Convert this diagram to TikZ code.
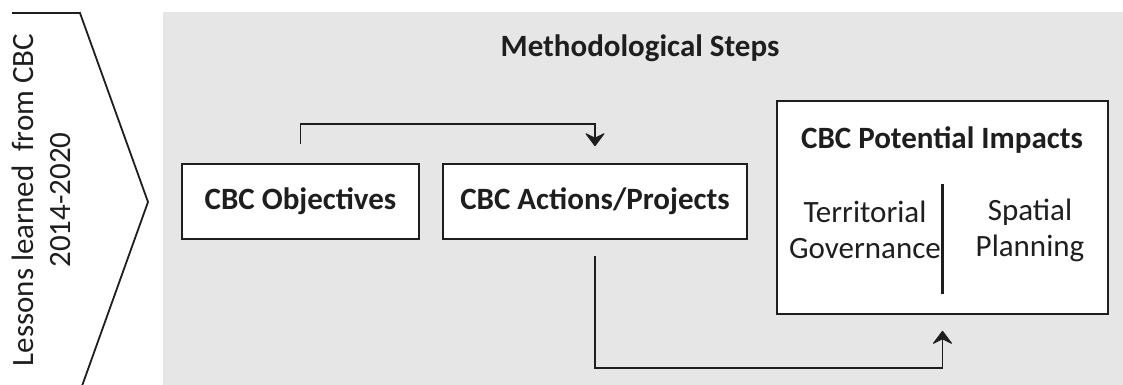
\documentclass[tikz,border=0pt]{standalone}
\usepackage{fontspec}
\setmainfont{Carlito}
\usetikzlibrary{arrows.meta,positioning,calc}
\definecolor{bggray}{HTML}{E6E6E6}
\definecolor{ink}{HTML}{1E1E1E}
\tikzset{
  stepbox/.style={draw=ink,line width=2.6pt,fill=white,inner sep=0pt,font=\fontsize{31}{37}\selectfont\bfseries,text=ink},
  conn/.style={draw=ink,line width=1.8pt},
  tip/.style={fill=ink,draw=ink,line width=1pt,line join=round},
  lbl/.style={font=\fontsize{31}{36}\selectfont,text=ink,align=center,inner sep=0pt},
}
\begin{document}
\begin{tikzpicture}[x=1pt,y=-1pt]
\useasboundingbox (0,0) rectangle (1123,385);
% gray background
\fill[bggray] (163,12) rectangle (1123,385);
% chevron
\draw[ink,line width=1.8pt] (12,13) -- (80,13) -- (148,202) -- (82,386);
\node[lbl,rotate=90,font=\fontsize{31}{37}\selectfont] (lessons) at (41,200) {Lessons learned\ \ from CBC\\2014-2020};
% title
\node[lbl,font=\fontsize{31}{36}\selectfont\bfseries] (title) at (640,48) {Methodological Steps};
% boxes
\node[stepbox,minimum width=237pt,minimum height=75pt] (obj) at (300.5,201.5) {CBC Objectives};
\node[stepbox,minimum width=304pt,minimum height=75pt] (act) at (595,201.5) {CBC Actions/Projects};
\node[stepbox,minimum width=331pt,minimum height=213pt] (imp) at (942.5,207.5) {};
\node[lbl,font=\fontsize{31}{36}\selectfont\bfseries] (imptitle) at (942,140) {CBC Potential Impacts};
\node[lbl] (terr) at (865,230) {Territorial\\Governance};
\node[lbl] (spat) at (1030,230) {Spatial\\Planning};
\draw[ink,line width=2.2pt] ($(imp.south)+(0,-21)$) coordinate (divb) -- ($(imp.south)+(0,-131)$) coordinate (divt);
% connectors
\coordinate (o1) at ($(obj.north)+(0,-19)$);
\coordinate (a1) at ($(act.north)+(0,-17)$);
\draw[conn] (o1) |- ($(a1)+(0,-22)$) -- ($(a1)+(0,-6)$);
\fill[tip] (a1) -- ++(-9,-12) -- ++(9,4.5) -- ++(9,-4.5) -- cycle;
\coordinate (a2) at ($(act.south)+(0,16)$);
\coordinate (i2) at ($(imp.south)+(0,16)$);
\draw[conn] (a2) |- ($(i2)+(0,37)$) -- ($(i2)+(0,6)$);
\fill[tip] (i2) -- ++(-9,12) -- ++(9,-4.5) -- ++(9,4.5) -- cycle;
\end{tikzpicture}
\end{document}
